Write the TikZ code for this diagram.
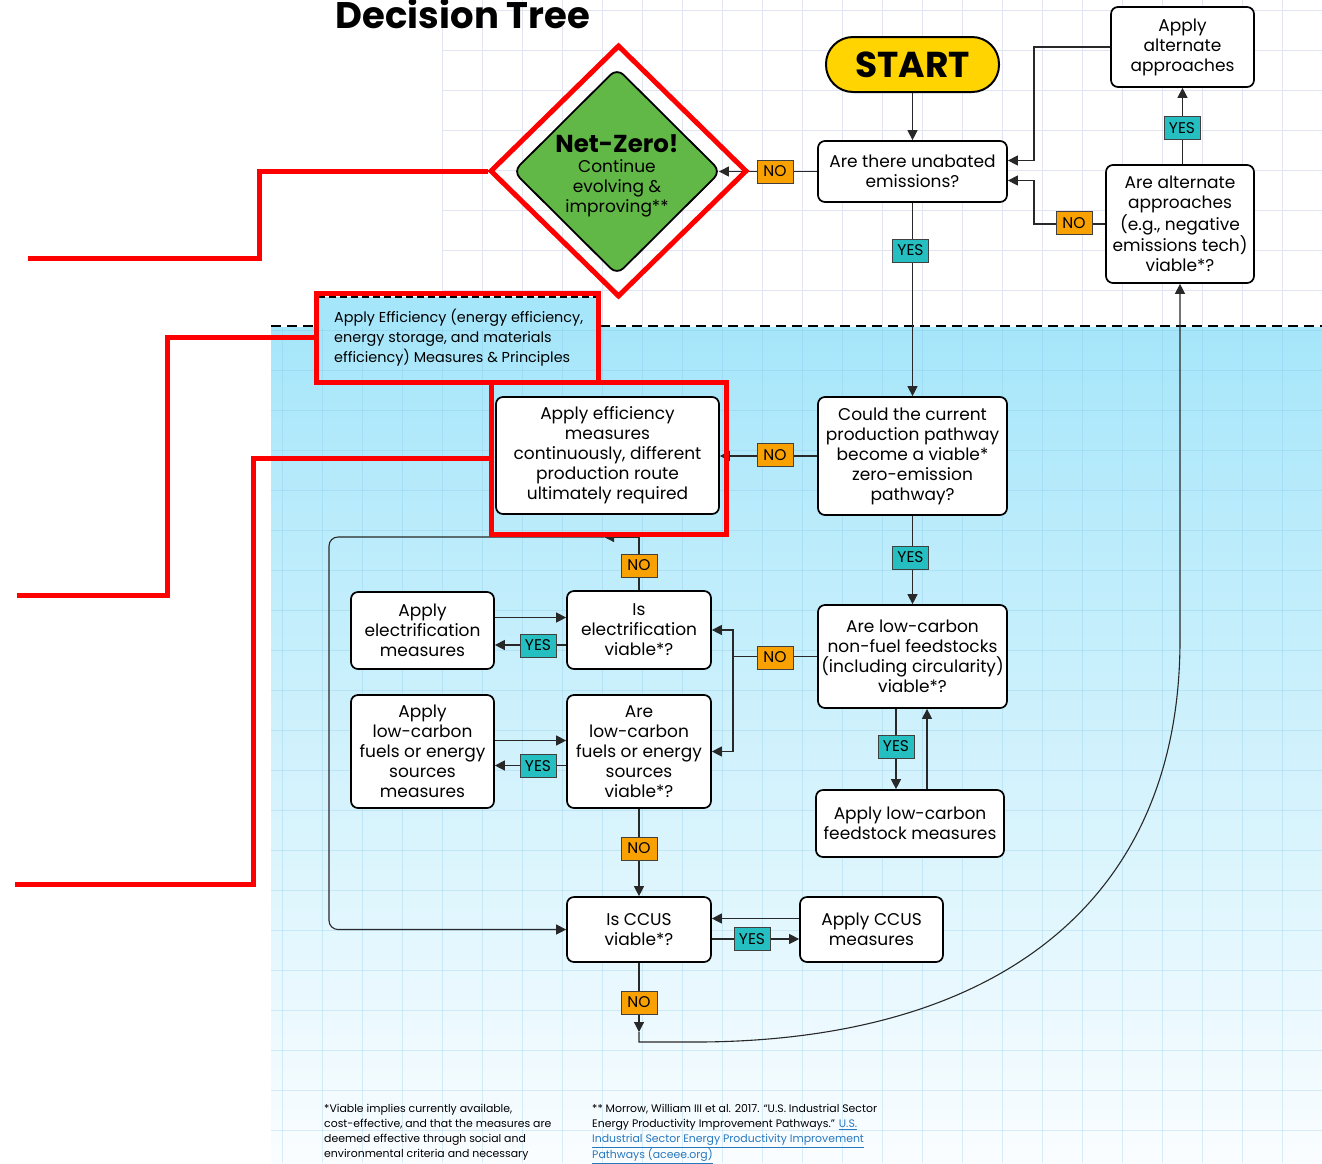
\documentclass[tikz,border=0pt]{standalone}
\usepackage{fontspec}
\setmainfont{Poppins}
\usetikzlibrary{arrows.meta,shapes.geometric,calc}

\definecolor{skyA}{RGB}{166,230,250}
\definecolor{skyB}{RGB}{250,253,255}
\definecolor{gridTop}{RGB}{226,228,242}
\definecolor{gridSky}{RGB}{120,190,228}
\definecolor{startY}{RGB}{255,212,0}
\definecolor{nzGreen}{RGB}{98,184,70}
\definecolor{yesTeal}{RGB}{38,191,193}
\definecolor{noOrange}{RGB}{249,161,0}
\definecolor{linkBlue}{RGB}{40,120,190}
\definecolor{markRed}{RGB}{255,0,0}
\definecolor{inkgray}{RGB}{40,40,40}

\tikzset{
  box/.style={draw=black, line width=1.7pt, fill=white, rounded corners=7pt,
    align=center, inner sep=0pt, font=\fontsize{17}{20}\selectfont},
  conn/.style={draw=inkgray, line width=1.1pt},
  arr/.style={-{Triangle[length=10pt,width=10pt]}},
  tagbase/.style={draw=black!75, line width=0.8pt, minimum width=36pt,
    minimum height=23pt, inner sep=0pt, font=\fontsize{15.5}{15}\selectfont},
  yestag/.style={tagbase, fill=yesTeal},
  notag/.style={tagbase, fill=noOrange},
  redmark/.style={draw=markRed, line width=5pt},
  note/.style={anchor=north west, align=left, inner sep=0pt, font=\fontsize{10.9}{15}\selectfont},
}

\begin{document}
\begin{tikzpicture}[x=1pt,y=-1pt]
\useasboundingbox (0,0) rectangle (1322,1163);
\fill[white] (0,0) rectangle (1322,1163);

% background: white upper zone, shaded lower zone, light grids
\shade[top color=skyA, bottom color=skyB] (271,327) rectangle (1322,1163);
\foreach \gx in {442,482,...,1322} \draw[gridTop, line width=0.8pt] (\gx,0) -- (\gx,326);
\foreach \gy in {10,50,...,290} \draw[gridTop, line width=0.8pt] (442,\gy) -- (1322,\gy);
\foreach \gx in {282,322,...,1322} \draw[gridSky, opacity=0.25, line width=0.8pt] (\gx,327) -- (\gx,1163);
\foreach \gy in {330,370,...,1150} \draw[gridSky, opacity=0.25, line width=0.8pt] (271,\gy) -- (1322,\gy);

% efficiency tab and zone border
\fill[skyA] (318,297) rectangle (600,327);
\draw[line width=1.3pt, dash pattern=on 7pt off 4pt] (318,297) -- (600,297) -- (600,326);
\draw[line width=2pt, dash pattern=on 10pt off 6pt] (271,326) -- (318,326);
\draw[line width=2pt, dash pattern=on 10pt off 6pt] (600,326) -- (1322,326);
\node[anchor=north west, align=left, inner sep=0pt, font=\fontsize{14.4}{20}\selectfont] (efftab) at (334,309)
  {Apply Efficiency (energy efficiency,\\energy storage, and materials\\efficiency) Measures \& Principles};

% title
\node[anchor=base, inner sep=0pt, font=\fontsize{37}{40}\selectfont\bfseries] (title) at (463,28) {Decision Tree};

% footnotes
\node[note] (fnA) at (324,1104)
  {*Viable implies currently available,\\cost-effective, and that the measures are\\deemed effective through social and\\environmental criteria and necessary};
\node[note] (fnB) at (592,1104)
  {** Morrow, William III et al. 2017. “U.S. Industrial Sector\\Energy Productivity Improvement Pathways.” \textcolor{linkBlue}{\underline{U.S.}}\\\textcolor{linkBlue}{\underline{Industrial Sector Energy Productivity Improvement}}\\\textcolor{linkBlue}{\underline{Pathways (aceee.org)}}};

% flow nodes
\node[box, minimum width=173pt, minimum height=55pt, fill=startY, rounded corners=27pt,
  line width=2pt, font=\fontsize{36}{36}\selectfont\bfseries] (start) at (912.5,64.5) {START};
\node[diamond, draw=black, line width=1.8pt, fill=nzGreen, rounded corners=9pt,
  minimum width=208pt, minimum height=207pt, inner sep=0pt] (nz) at (617,171.5) {};
\node[align=center, inner sep=0pt, font=\fontsize{17}{20}\selectfont] (nztext) at (617,176)
  {{\fontsize{24.5}{26}\selectfont\bfseries Net-Zero!}\\Continue\\evolving \&\\improving**};
\node[box, minimum width=189pt, minimum height=61pt] (unab) at (912.5,171.5) {Are there unabated\\emissions?};
\node[box, minimum width=143pt, minimum height=80pt] (alta) at (1182.5,47) {Apply\\alternate\\approaches};
\node[box, minimum width=148pt, minimum height=118pt] (altq) at (1180,224) {Are alternate\\approaches\\(e.g., negative\\emissions tech)\\viable*?};
\node[box, minimum width=189pt, minimum height=118pt] (could) at (912.5,456) {Could the current\\production pathway\\become a viable*\\zero-emission\\pathway?};
\node[box, minimum width=223pt, minimum height=117pt] (ae) at (607.5,455.5) {Apply efficiency\\measures\\continuously, different\\production route\\ultimately required};
\node[box, minimum width=189pt, minimum height=103pt] (feed) at (912.5,656.5) {Are low-carbon\\non-fuel feedstocks\\(including circularity)\\viable*?};
\node[box, minimum width=188pt, minimum height=67pt] (apfeed) at (910,823.5) {Apply low-carbon\\feedstock measures};
\node[box, minimum width=144pt, minimum height=78pt] (elec) at (639,630) {Is\\electrification\\viable*?};
\node[box, minimum width=143pt, minimum height=77pt] (apelec) at (422.5,630.5) {Apply\\electrification\\measures};
\node[box, minimum width=144pt, minimum height=113pt] (fuels) at (639,751.5) {Are\\low-carbon\\fuels or energy\\sources\\viable*?};
\node[box, minimum width=143pt, minimum height=113pt] (apfuels) at (422.5,751.5) {Apply\\low-carbon\\fuels or energy\\sources\\measures};
\node[box, minimum width=144pt, minimum height=65pt] (ccus) at (639,929.5) {Is CCUS\\viable*?};
\node[box, minimum width=143pt, minimum height=65pt] (apccus) at (871.5,929.5) {Apply CCUS\\measures};

% helper coordinates for routed connectors
\coordinate (bx) at (1034,0);
\coordinate (fa) at (896,0);
\coordinate (fb) at (927,0);
\coordinate (jx) at (733,0);
\coordinate (lx) at (329,0);
\coordinate (ltop) at (639,537);
\coordinate (lmark) at (604,537);
\coordinate (ctip) at (639,1032);
\coordinate (cend) at (639,1042);

% connectors
\draw[conn,arr] (start.south) -- (unab.north);
\draw[conn,arr] (unab.west) -- ([xshift=-3pt]nz.east);
\draw[conn,arr] (unab.south) -- (could.north);
\draw[conn,arr] (altq.north -| alta.south) -- (alta.south);
\draw[conn,arr] (alta.west) -| ([yshift=11pt]unab.east -| bx) -- ([yshift=11pt]unab.east);
\draw[conn,arr] (altq.west) -| ([yshift=-9pt]unab.east -| bx) -- ([yshift=-9pt]unab.east);
\draw[conn,arr] (could.west) -- (could.west -| ae.east);
\draw[conn,arr] (could.south) -- (feed.north);
\draw[conn,arr] (feed.south -| fa) -- (apfeed.north -| fa);
\draw[conn,arr] (apfeed.north -| fb) -- (feed.south -| fb);
\draw[conn,arr] (feed.west) -- (feed.west -| jx) |- (elec.east);
\draw[conn,arr] (feed.west -| jx) |- (fuels.east);
\draw[conn] (elec.north) -- (ltop);
\draw[conn,arr] (ltop) -- (lmark);
\draw[conn,arr,rounded corners=9pt] (lmark) -- (ltop -| lx) -- (ccus.west -| lx) -- (ccus.west);
\draw[conn,arr] ([yshift=13pt]apelec.east) -- ([yshift=13pt]apelec.east -| elec.west);
\draw[conn,arr] ([yshift=-15pt]elec.west) -- ([yshift=-15pt]elec.west -| apelec.east);
\draw[conn,arr] ([yshift=11pt]apfuels.east) -- ([yshift=11pt]apfuels.east -| fuels.west);
\draw[conn,arr] ([yshift=-14pt]fuels.west) -- ([yshift=-14pt]fuels.west -| apfuels.east);
\draw[conn,arr] (fuels.south) -- (ccus.north);
\draw[conn,arr] ([yshift=11pt]apccus.west) -- ([yshift=11pt]apccus.west -| ccus.east);
\draw[conn,arr] ([yshift=-9.5pt]ccus.east) -- ([yshift=-9.5pt]ccus.east -| apccus.west);
\draw[conn,arr] (ccus.south) -- (ctip);
\draw[conn,arr] (ctip) -- (cend) -- (700,1042) .. controls (1000,1040) and (1180,900) .. (1180,640) -- (altq.south);

% decision tags
\node[notag] (no1) at (775,171.5) {NO};
\node[yestag] (yes1) at (910.5,250.5) {YES};
\node[yestag] (yes2) at (1182,128) {YES};
\node[notag] (no2) at (1074,223) {NO};
\node[notag] (no3) at (775,455) {NO};
\node[yestag] (yes3) at (910.5,557.5) {YES};
\node[yestag] (yes4) at (896,746.5) {YES};
\node[notag] (no4) at (775,657.5) {NO};
\node[notag] (no5) at (639,565.5) {NO};
\node[yestag] (yes5) at (538,645.5) {YES};
\node[yestag] (yes6) at (538,766) {YES};
\node[notag] (no6) at (639,848.5) {NO};
\node[yestag] (yes7) at (752,939) {YES};
\node[notag] (no7) at (639,1002.5) {NO};

% red highlight frames and leader lines
\node[diamond, redmark, minimum width=257pt, minimum height=252pt, inner sep=0pt] (nzframe) at (618.5,171) {};
\node[redmark, minimum width=282pt, minimum height=89pt, inner sep=0pt] (effframe) at (457,337.5) {};
\node[redmark, minimum width=235pt, minimum height=152pt, inner sep=0pt] (aeframe) at (608.5,458) {};
\draw[redmark] (nzframe.west) -- (259,171) |- (28,258);
\draw[redmark] (effframe.west) -- (167,337.5) |- (17,595);
\draw[redmark] (aeframe.west) -- (253,458) |- (15,884);
\end{tikzpicture}
\end{document}
